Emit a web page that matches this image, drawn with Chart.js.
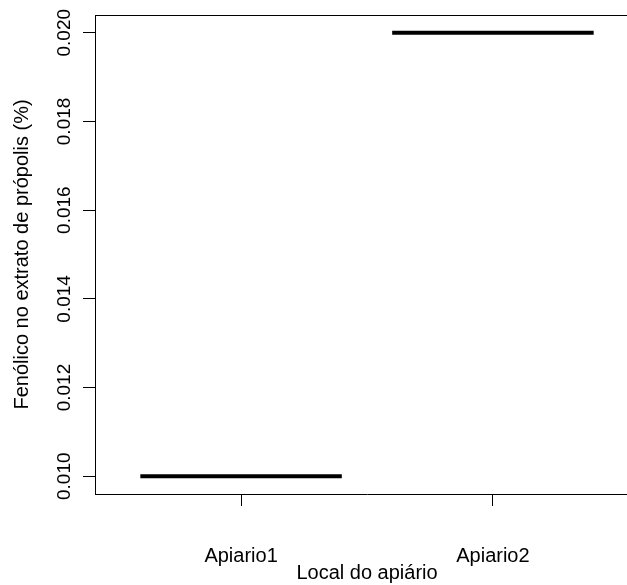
<!DOCTYPE html>
<html>
<head>
<meta charset="utf-8">
<script src="https://cdn.jsdelivr.net/npm/chart.js@4"></script>
<style>
  html, body { margin: 0; padding: 0; background: #fff; overflow: hidden; }
  #wrap { width: 627px; height: 585px; overflow: hidden; }
</style>
</head>
<body>
<div id="wrap"><canvas id="myChart" width="650" height="585"></canvas></div>
<script>
// data
const categories = ["Apiario1", "Apiario2"];
const medians = [0.010, 0.020];
const yTicks = [0.010, 0.012, 0.014, 0.016, 0.018, 0.020];
const yTitle = "Fenólico no extrato de própolis (%)";
const xTitle = "Local do apiário";

const FONT = "'Liberation Sans', Arial, Helvetica, sans-serif";
const boxHalf = 0.4; // R boxwex 0.8

// one flat segment per group (degenerate boxes)
const datasets = medians.map((v, i) => ({
  data: [{ x: i + 1 - boxHalf, y: v }, { x: i + 1 + boxHalf, y: v }],
  borderColor: "#000",
  borderWidth: 4,
  borderCapStyle: "butt",
  pointRadius: 0,
  fill: false,
}));

// draws top frame line, rotated y tick labels and axis titles
const textPlugin = {
  id: "textPlugin",
  afterDraw(chart) {
    const ctx = chart.ctx;
    const area = chart.chartArea;
    const y = chart.scales.y;
    const x = chart.scales.x;
    ctx.save();
    ctx.strokeStyle = "#000";
    ctx.lineWidth = 1;
    ctx.beginPath();
    ctx.moveTo(area.left, area.top + 0.5);
    ctx.lineTo(area.right, area.top + 0.5);
    ctx.stroke();

    ctx.fillStyle = "#000";
    ctx.font = "19px " + FONT;
    ctx.textAlign = "center";
    ctx.textBaseline = "middle";
    yTicks.forEach((v) => {
      ctx.save();
      ctx.translate(65, y.getPixelForValue(v));
      ctx.rotate(-Math.PI / 2);
      ctx.fillText(v.toFixed(3), 0, 0);
      ctx.restore();
    });

    ctx.font = "20px " + FONT;
    ctx.save();
    ctx.translate(22, (area.top + area.bottom) / 2);
    ctx.rotate(-Math.PI / 2);
    ctx.fillText(yTitle, 0, 0);
    ctx.restore();

    ctx.fillText(xTitle, x.getPixelForValue(1.5), 573);
    ctx.restore();
  },
};

const ctx = document.getElementById("myChart").getContext("2d");
new Chart(ctx, {
  type: "line",
  data: { datasets: datasets },
  options: {
    responsive: false,
    animation: false,
    layout: { padding: { top: 15, right: 11, left: 0, bottom: 0 } },
    plugins: { legend: { display: false }, tooltip: { enabled: false } },
    scales: {
      x: {
        type: "linear",
        min: 0.42,
        max: 2.58,
        afterBuildTicks: (scale) => {
          scale.ticks = categories.map((c, i) => ({ value: i + 1 }));
        },
        afterFit: (scale) => { scale.height = 91; },
        border: { display: true, color: "#000", width: 1 },
        grid: { drawOnChartArea: false, drawTicks: true, tickLength: 12, color: "#000", lineWidth: 1 },
        ticks: {
          color: "#000",
          font: { family: FONT, size: 20 },
          padding: 38,
          maxRotation: 0,
          autoSkip: false,
          callback: (v) => categories[v - 1],
        },
      },
      y: {
        type: "linear",
        min: 0.0096,
        max: 0.0204,
        afterBuildTicks: (scale) => {
          scale.ticks = yTicks.map((v) => ({ value: v }));
        },
        afterFit: (scale) => { scale.width = 95; },
        border: { display: true, color: "#000", width: 1 },
        grid: { drawOnChartArea: false, drawTicks: true, tickLength: 12, color: "#000", lineWidth: 1 },
        ticks: { display: false },
      },
    },
  },
  plugins: [textPlugin],
});
</script>
</body>
</html>
